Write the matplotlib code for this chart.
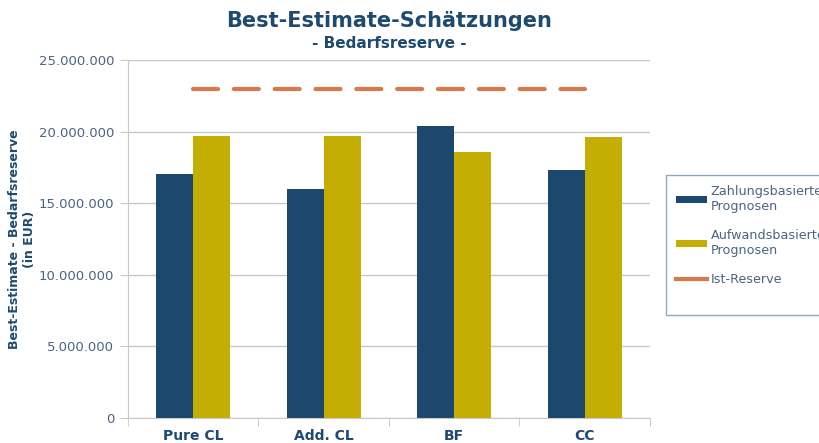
import numpy as np
import matplotlib
matplotlib.use("Agg")
import matplotlib.pyplot as plt
from matplotlib.patches import Rectangle
from matplotlib.ticker import FuncFormatter

categories = ["Pure CL", "Add. CL", "BF", "CC"]
zahlung = [17.05e6, 16.0e6, 20.4e6, 17.35e6]
aufwand = [19.7e6, 19.7e6, 18.6e6, 19.65e6]
ist_reserve = [22.95e6, 22.95e6, 22.95e6, 22.95e6]

navy = "#1b486c"
gold = "#c5ae04"
orange = "#d8794a"
text_col = "#1f4a70"
tick_col = "#4a6482"

plt.rcParams['font.family'] = ['DejaVu Sans']

fig = plt.figure(figsize=(8.2, 4.43), dpi=100)
ax = fig.add_axes([128 / 820, 1 - 418 / 443, (650 - 128) / 820, (418 - 60) / 443])

x = np.arange(len(categories))
w = 0.285
b1 = ax.bar(x - w / 2, zahlung, w, color=navy, label="Zahlungsbasierte\nPrognosen")
b2 = ax.bar(x + w / 2, aufwand, w, color=gold, label="Aufwandsbasierte\nPrognosen")
l1, = ax.plot(x, ist_reserve, color=orange, lw=3, dashes=(6, 3.8),
              dash_capstyle='round', label="Ist-Reserve")

ax.set_xlim(-0.5, 3.5)
ax.set_ylim(0, 25e6)
ax.set_yticks(np.arange(0, 25.1e6, 5e6))
ax.yaxis.set_major_formatter(FuncFormatter(lambda v, p: f"{int(v):,}".replace(",", ".")))
ax.grid(axis='y', color="#c8c8c8", lw=1)
ax.set_axisbelow(True)

for s in ["top", "right"]:
    ax.spines[s].set_visible(False)
ax.spines["left"].set_color("#c8c8c8")
ax.spines["bottom"].set_color("#c8c8c8")

ax.set_xticks(x)
ax.set_xticklabels(categories, fontweight='bold', fontsize=10, color=text_col)
ax.tick_params(axis='x', length=0, pad=8)
ax.set_xticks(np.arange(-0.5, 4, 1), minor=True)
ax.tick_params(axis='x', which='minor', length=6, color="#c8c8c8")
ax.tick_params(axis='y', length=6, color="#c8c8c8", labelsize=9.5, labelcolor=tick_col, pad=4)

ax.set_ylabel("Best-Estimate - Bedarfsreserve\n(in EUR)", fontweight='bold',
              fontsize=9, color=text_col, labelpad=2, linespacing=1.2)

fig.text(389 / 820, 1 - 21 / 443, "Best-Estimate-Schätzungen", ha='center', va='center',
         fontsize=15, fontweight='bold', color=text_col)
fig.text(389 / 820, 1 - 44 / 443, "- Bedarfsreserve -", ha='center', va='center',
         fontsize=11, fontweight='bold', color=text_col)

# legend box, drawn separately so it can run past the right edge like the original
fig.patches.append(Rectangle((666 / 820, 1 - 315 / 443), 170 / 820, 140 / 443,
                             transform=fig.transFigure, facecolor='white',
                             edgecolor="#8fa8c0", lw=1, zorder=0))
leg = fig.legend(handles=[b1, b2, l1], loc='upper left', bbox_to_anchor=(667 / 820, 1 - 176 / 443),
                 frameon=False, fontsize=9.2, labelspacing=1.25,
                 handlelength=2.4, handleheight=0.45, borderpad=0.7, handletextpad=0.3,
                 borderaxespad=0)
for t in leg.get_texts():
    t.set_color(tick_col)
leg.legend_handles[2].set_linestyle('-')

fig.savefig("out.png", dpi=100)
